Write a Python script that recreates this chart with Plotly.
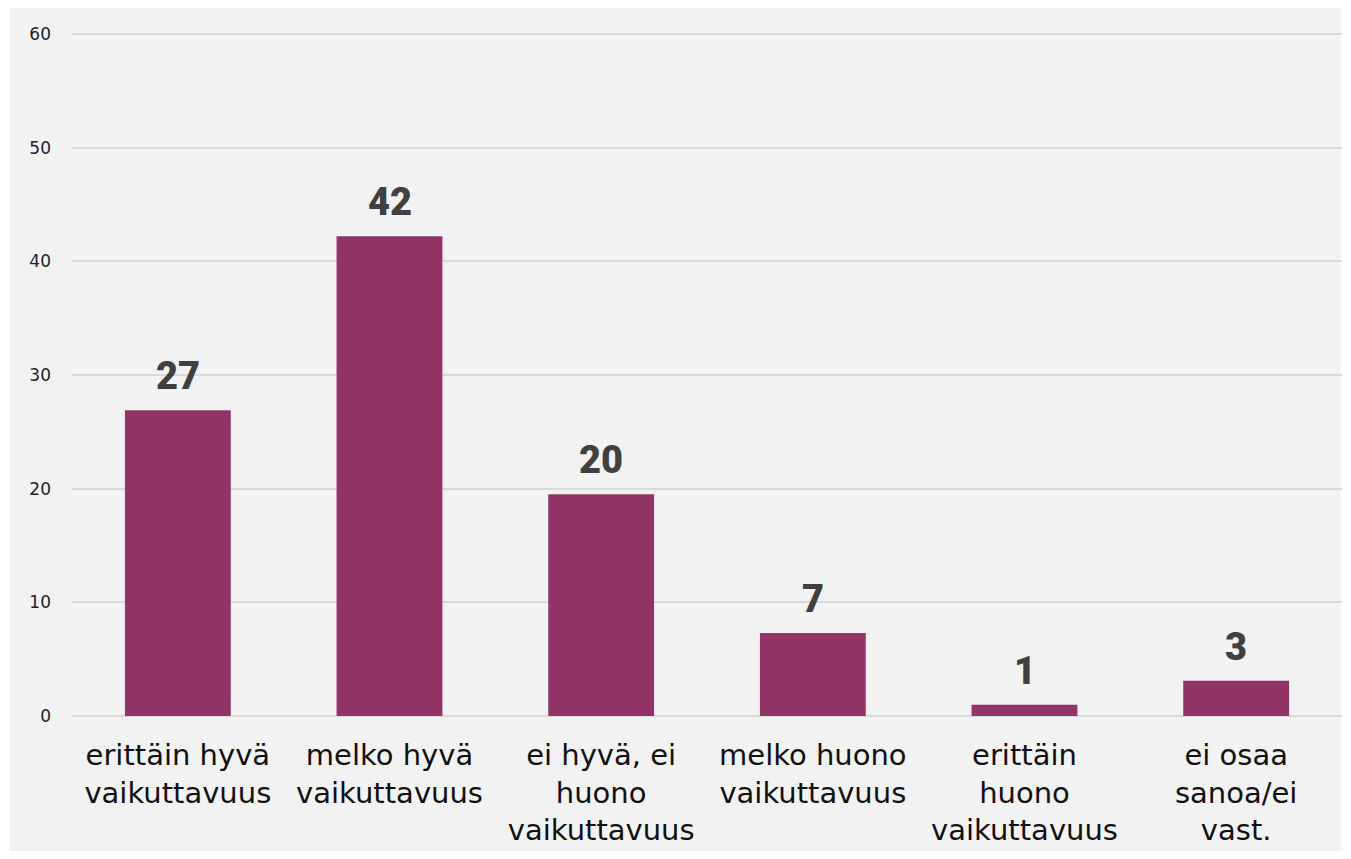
import plotly.graph_objects as go

categories = [
    "erittäin hyvä<br>vaikuttavuus",
    "melko hyvä<br>vaikuttavuus",
    "ei hyvä, ei<br>huono<br>vaikuttavuus",
    "melko huono<br>vaikuttavuus",
    "erittäin<br>huono<br>vaikuttavuus",
    "ei osaa<br>sanoa/ei<br>vast.",
]
values = [26.9, 42.2, 19.5, 7.3, 1.0, 3.1]
labels = ["27", "42", "20", "7", "1", "3"]
y_ticks = [0, 10, 20, 30, 40, 50, 60]

# page body has an 8px margin; compensate
OFF = 8
W, H = 1351 - 2 * OFF, 859 - 2 * OFF
ml, mt = 72 - OFF, 32 - OFF
mr = W - (1342 - OFF)
mb = H - (716 - OFF)

fig = go.Figure(go.Bar(
    x=categories, y=values, marker_color="#933466",
    marker_line_width=0, hoverinfo="skip",
))

for c, v, t in zip(categories, values, labels):
    fig.add_annotation(
        x=c, y=v, text=t, showarrow=False, yanchor="bottom", yshift=10,
        font=dict(family="Roboto", size=38, color="#404040", weight=900),
    )

pw = W - ml - mr
ph = H - mt - mb
fig.add_shape(
    type="rect", xref="paper", yref="paper", layer="below",
    x0=(9 - OFF - ml) / pw, x1=(1341 - OFF - ml) / pw,
    y0=(H - mb - (856 - OFF)) / ph, y1=(H - mb + 10) / ph,
    fillcolor="#f2f2f2", line_width=0,
)

fig.update_layout(
    width=W, height=H,
    margin=dict(l=ml, r=mr, t=mt, b=mb),
    paper_bgcolor="white", plot_bgcolor="rgba(0,0,0,0)",
    bargap=0.5, showlegend=False,
    font=dict(family="DejaVu Sans", color="#1a1a1a"),
)
fig.update_xaxes(
    showgrid=False, showline=False, ticks="", ticklabelstandoff=19,
    tickfont=dict(family="DejaVu Sans", size=29, color="#111111"),
)
fig.update_yaxes(
    range=[0, 60.18], tickvals=y_ticks, showgrid=True, gridcolor="#d9d9d9",
    gridwidth=1.5, zeroline=True, zerolinecolor="#d9d9d9", zerolinewidth=1.5,
    showline=False, ticks="", ticklabelstandoff=20,
    tickfont=dict(family="DejaVu Sans", size=17, color="#222222"),
)

fig.write_html("out.html")
